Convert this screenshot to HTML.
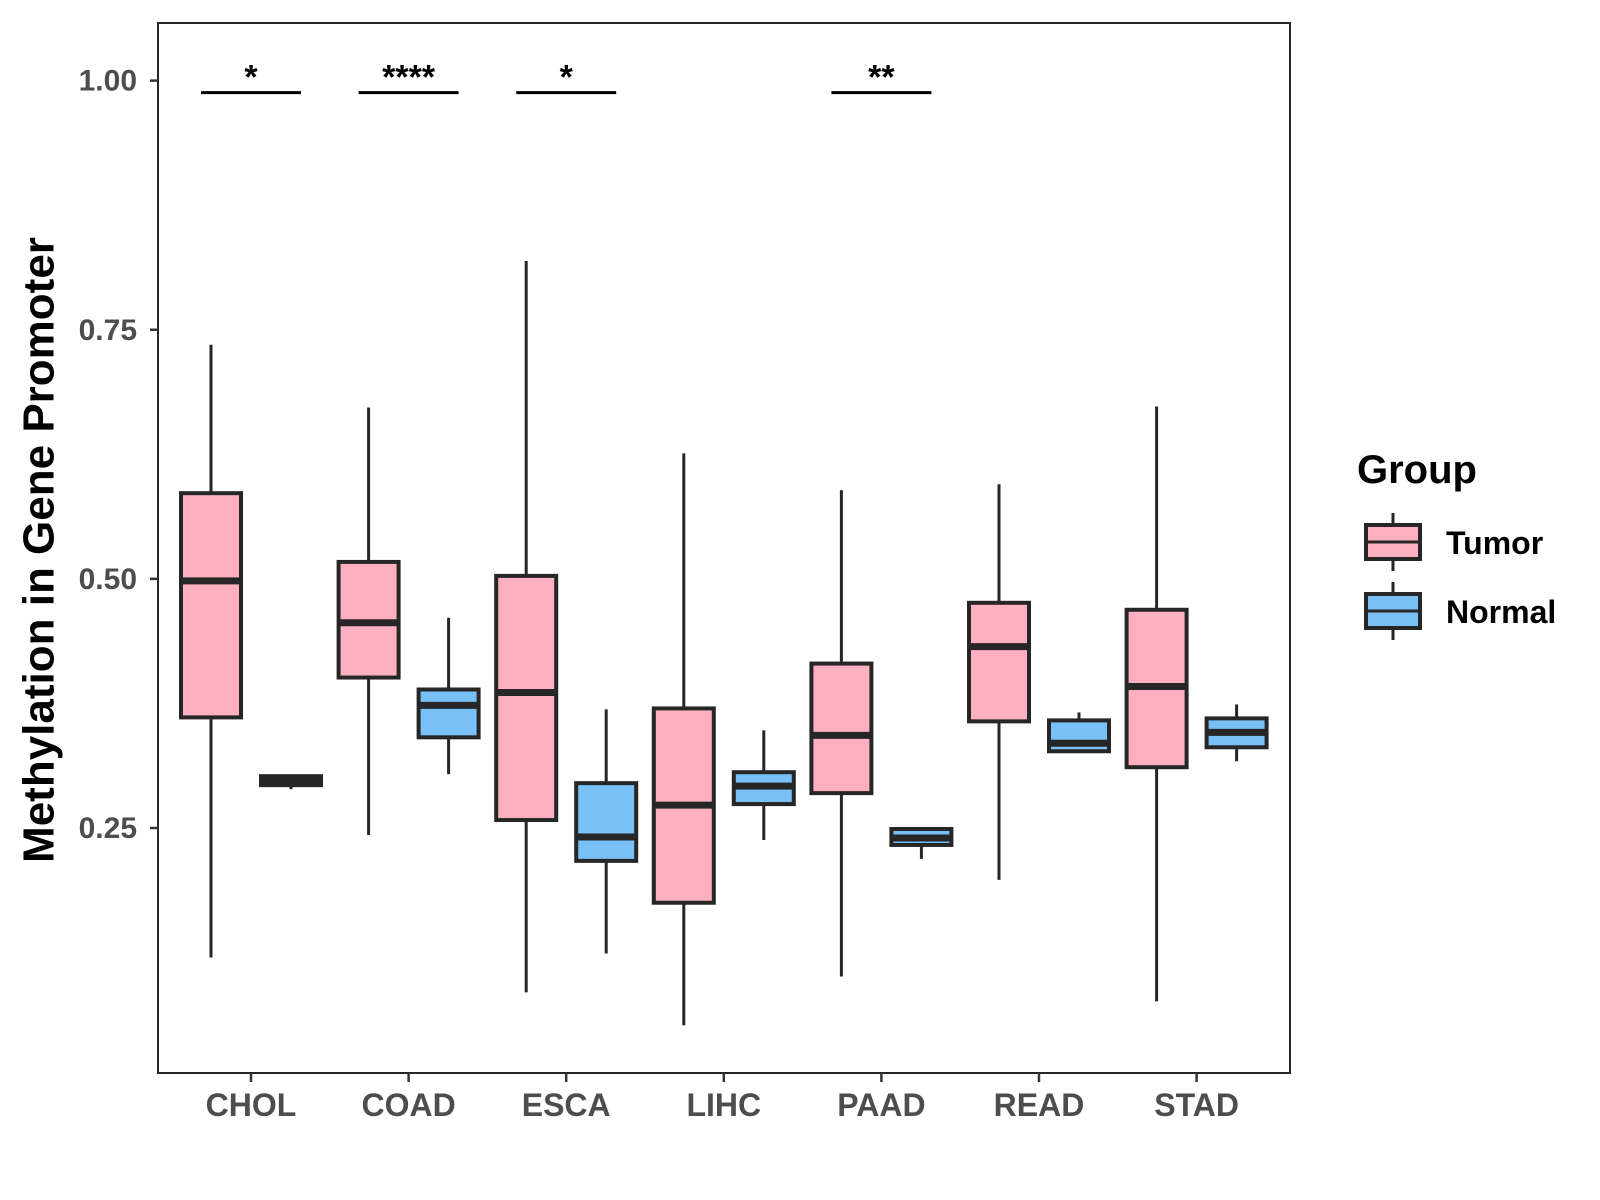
<!DOCTYPE html>
<html><head><meta charset="utf-8"><style>
body{margin:0;background:#fff}
svg{display:block}
text{font-family:"Liberation Sans",Arial,sans-serif;font-weight:bold}
</style></head><body>
<svg id="chart" width="1600" height="1200" viewBox="0 0 1600 1200">
<rect x="158" y="23" width="1132" height="1050" fill="none" stroke="#262626" stroke-width="2"/>
<g id="yaxis"></g>
<g id="xaxis"></g>
<g id="boxes"></g>
<g id="sig"></g>
<text x="39" y="550" transform="rotate(-90 39 550)" text-anchor="middle" dominant-baseline="central" font-size="44" fill="#000">Methylation in Gene Promoter</text>
<g>
<text x="1357" y="483" font-size="40" fill="#000">Group</text>
<g>
<line x1="1393" y1="513" x2="1393" y2="571" stroke="#262626" stroke-width="3"/>
<rect x="1366" y="525" width="54" height="34" fill="#FDB0C0" stroke="#262626" stroke-width="4"/>
<line x1="1366" y1="542" x2="1420" y2="542" stroke="#262626" stroke-width="3"/>
<text x="1446" y="554" font-size="32" fill="#000">Tumor</text>
</g>
<g>
<line x1="1393" y1="582" x2="1393" y2="640" stroke="#262626" stroke-width="3"/>
<rect x="1366" y="594" width="54" height="34" fill="#78C0F6" stroke="#262626" stroke-width="4"/>
<line x1="1366" y1="611" x2="1420" y2="611" stroke="#262626" stroke-width="3"/>
<text x="1446" y="623" font-size="32" fill="#000">Normal</text>
</g>
</g>
</svg>
<script>
const categories=["CHOL","COAD","ESCA","LIHC","PAAD","READ","STAD"];
const tumorLow=[0.12,0.243,0.085,0.052,0.101,0.198,0.076];
const tumorQ1=[0.361,0.401,0.258,0.175,0.285,0.357,0.311];
const tumorMed=[0.498,0.456,0.386,0.273,0.343,0.432,0.392];
const tumorQ3=[0.586,0.517,0.503,0.37,0.415,0.476,0.469];
const tumorHigh=[0.735,0.672,0.819,0.626,0.589,0.595,0.673];
const normalLow=[0.289,0.304,0.124,0.238,0.219,0.327,0.317];
const normalQ1=[0.293,0.341,0.217,0.274,0.233,0.327,0.331];
const normalMed=[0.298,0.373,0.241,0.292,0.24,0.335,0.346];
const normalQ3=[0.302,0.389,0.295,0.306,0.249,0.358,0.36];
const normalHigh=[0.302,0.461,0.369,0.348,0.249,0.366,0.374];
const yTicks=[0.25,0.5,0.75,1.0];
const yTickLabels=["0.25","0.50","0.75","1.00"];
const sigCats=["CHOL","COAD","ESCA","PAAD"];
const sigLabels=["*","****","*","**"];
const sigLevel=0.988;

const NS="http://www.w3.org/2000/svg";
function y(v){return 828-(v-0.25)*996.5;}
function x(i){return 251+i*157.6;}
function mk(tag,attrs,parent){const e=document.createElementNS(NS,tag);for(const k in attrs)e.setAttribute(k,attrs[k]);parent.appendChild(e);return e;}
const ya=document.getElementById('yaxis'),xa=document.getElementById('xaxis'),bx=document.getElementById('boxes'),sg=document.getElementById('sig');
yTicks.forEach((t,i)=>{
  const l=mk('line',{x1:150,x2:158,y1:y(t),y2:y(t),stroke:'#333','stroke-width':2.5},ya);
  
  
  const tx=mk('text',{x:137,y:y(t)+10,'text-anchor':'end','font-size':30,fill:'#4d4d4d'},ya);
  tx.textContent=yTickLabels[i];
  
  
});
categories.forEach((c,i)=>{
  const l=mk('line',{x1:x(i),x2:x(i),y1:1073,y2:1082,stroke:'#333','stroke-width':2.5},xa);
  
  
  const tx=mk('text',{x:x(i),y:1116,'text-anchor':'middle','font-size':32,fill:'#4d4d4d'},xa);
  tx.textContent=c;
  
  
});
function box(cx,lo,q1,md,q3,hi,fill,name){
  const g=mk('g',{},bx);
  
  
  mk('line',{x1:cx,x2:cx,y1:y(hi),y2:y(q3),stroke:'#262626','stroke-width':3},g);
  mk('line',{x1:cx,x2:cx,y1:y(q1),y2:y(lo),stroke:'#262626','stroke-width':3},g);
  mk('rect',{x:cx-30,y:y(q3),width:60,height:Math.max(y(q1)-y(q3),0.5),fill:fill,stroke:'#262626','stroke-width':4},g);
  mk('line',{x1:cx-30,x2:cx+30,y1:y(md),y2:y(md),stroke:'#262626','stroke-width':7},g);
}
categories.forEach((c,i)=>{
  box(x(i)-40,tumorLow[i],tumorQ1[i],tumorMed[i],tumorQ3[i],tumorHigh[i],'#FDB0C0','box-tumor-'+c.toLowerCase());
  box(x(i)+40,normalLow[i],normalQ1[i],normalMed[i],normalQ3[i],normalHigh[i],'#78C0F6','box-normal-'+c.toLowerCase());
});
sigCats.forEach((c,k)=>{
  const i=categories.indexOf(c);
  const l=mk('line',{x1:x(i)-50,x2:x(i)+50,y1:y(sigLevel),y2:y(sigLevel),stroke:'#000','stroke-width':3},sg);
  
  
  const t=mk('text',{x:x(i),y:y(sigLevel)-4,'text-anchor':'middle','font-size':34,fill:'#000'},sg);
  t.textContent=sigLabels[k];
  
  
});
</script>
</body></html>
